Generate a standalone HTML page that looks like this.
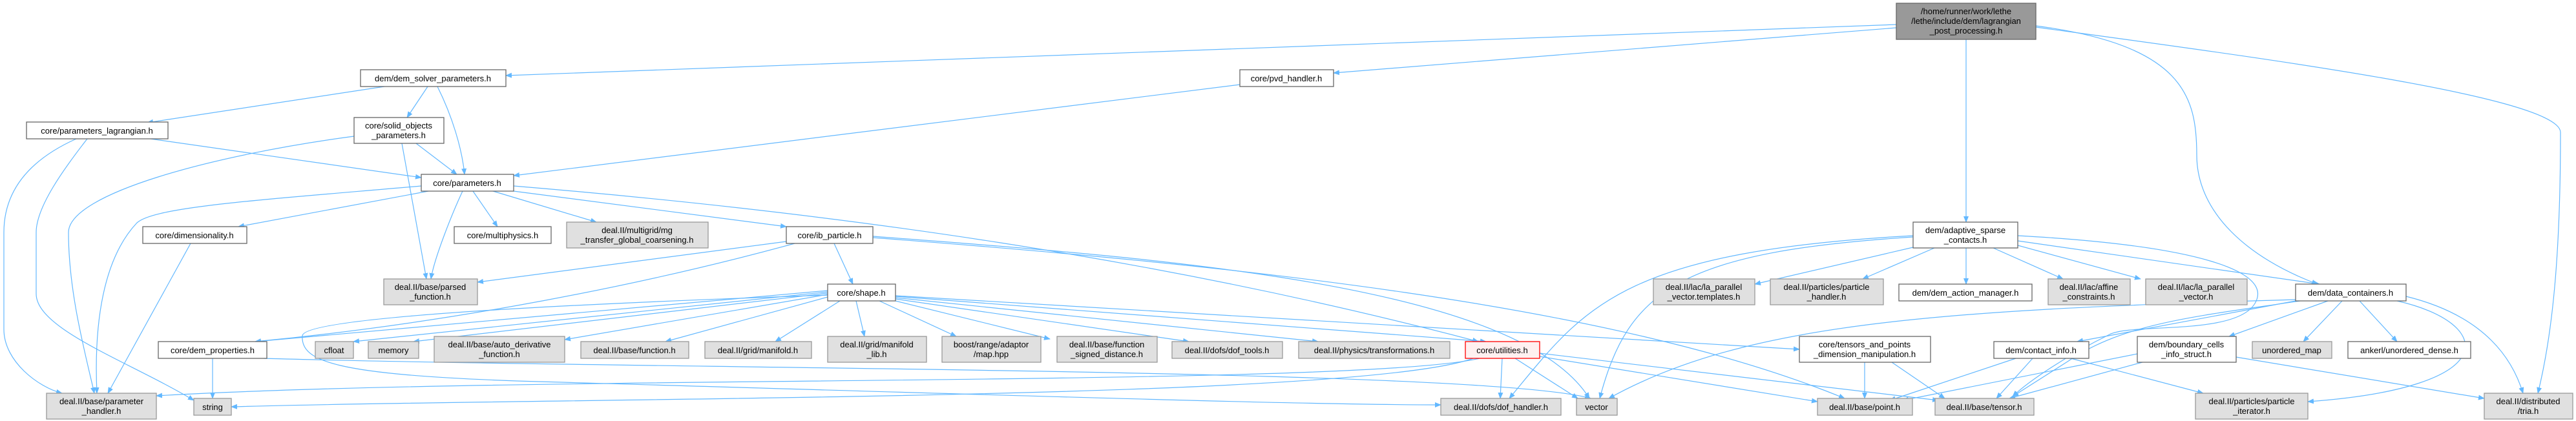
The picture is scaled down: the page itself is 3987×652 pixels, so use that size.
<!DOCTYPE html>
<html><head><meta charset="utf-8"><style>
html,body{margin:0;padding:0;background:#fff;width:3987px;height:652px;overflow:hidden}
svg text{font-family:"Liberation Sans",sans-serif;font-size:13px;fill:#000;text-anchor:middle}
.e{fill:none;stroke:#63b8ff;stroke-width:1.2}
.w{fill:#fff;stroke:#666;stroke-width:1.3}
.g{fill:#e0e0e0;stroke:#999;stroke-width:1.3}
.m{fill:#999;stroke:#666;stroke-width:1.3}
.r{fill:#fff0f0;stroke:#f00;stroke-width:1.3}
</style></head><body>
<svg width="3987" height="652" viewBox="0 0 3987 652" xmlns="http://www.w3.org/2000/svg">
<defs><marker id="a" markerWidth="10" markerHeight="8" refX="9" refY="4" orient="auto" markerUnits="userSpaceOnUse"><path d="M0,0 L10,4 L0,8 z" fill="#63b8ff"/></marker></defs>
<g class="e" marker-end="url(#a)">
<path d="M2935,38 L783,117"/>
<path d="M2935,43 L2064,113"/>
<path d="M3043,61 L3043,344"/>
<path d="M3151,40 C3380,70 3400,150 3400,240 C3400,330 3480,400 3587,440"/>
<path d="M3151,42 C3500,90 3963,150 3963,205 C3963,400 3950,520 3928,609"/>
<path d="M595,134 L228,190"/>
<path d="M662,134 L630,182"/>
<path d="M677,134 C700,180 715,230 719,270"/>
<path d="M233,215 L652,275"/>
<path d="M118,215 C40,250 6,300 6,360 L6,510 C6,560 60,600 96,609"/>
<path d="M135,215 C100,260 56,320 56,360 L56,455 C56,510 200,560 300,620"/>
<path d="M548,211 C330,240 106,300 106,360 C106,450 130,540 146,609"/>
<path d="M622,222 L660,432"/>
<path d="M644,222 L707,270"/>
<path d="M1919,131 L795,272"/>
<path d="M652,288 C400,310 240,320 212,345 C160,400 145,500 150,609"/>
<path d="M663,296 L369,351"/>
<path d="M716,296 C700,330 672,400 667,432"/>
<path d="M732,296 L770,351"/>
<path d="M763,296 L923,344"/>
<path d="M795,296 L1217,351"/>
<path d="M795,288 C1300,330 1800,400 2288,529"/>
<path d="M295,377 L167,609"/>
<path d="M1217,374 L739,437"/>
<path d="M1230,377 C1000,440 700,500 395,529"/>
<path d="M1291,377 L1320,440"/>
<path d="M1351,366 C1800,400 2350,440 2460,617"/>
<path d="M1351,368 C1900,410 2500,470 2855,617"/>
<path d="M1281,457 C900,470 470,490 468,520 C465,560 520,580 800,590 C1500,610 2000,627 2230,627"/>
<path d="M1281,450 L395,529"/>
<path d="M1281,452 L547,529"/>
<path d="M1281,454 L640,529"/>
<path d="M1281,456 L874,526"/>
<path d="M1281,460 L1030,529"/>
<path d="M1300,466 L1200,529"/>
<path d="M1325,466 L1338,521"/>
<path d="M1361,466 L1480,521"/>
<path d="M1386,466 L1625,525"/>
<path d="M1386,463 L1840,529"/>
<path d="M1386,461 L2040,529"/>
<path d="M1386,459 L2300,529"/>
<path d="M1386,458 L2785,541"/>
<path d="M408,555 C1000,572 2300,570 2462,617"/>
<path d="M329,555 L329,617"/>
<path d="M2290,555 C2100,600 800,580 242,613"/>
<path d="M2280,555 C2100,620 900,615 358,630"/>
<path d="M2325,555 L2322,617"/>
<path d="M2345,555 L2442,617"/>
<path d="M2383,552 L2813,622"/>
<path d="M2383,547 L3000,620"/>
<path d="M2886,561 L2886,617"/>
<path d="M2928,561 L3010,617"/>
<path d="M2961,367 C2600,390 2520,450 2476,617"/>
<path d="M2961,365 C2500,390 2450,480 2336,617"/>
<path d="M2961,383 L2716,440"/>
<path d="M2994,384 L2883,432"/>
<path d="M3043,384 L3043,440"/>
<path d="M3085,384 L3193,432"/>
<path d="M3123,380 L3313,432"/>
<path d="M3123,373 L3590,440"/>
<path d="M3123,365 C3400,380 3520,420 3490,470 C3460,520 3300,500 3265,518 C3200,550 3140,590 3115,614"/>
<path d="M3553,464 C3000,480 2700,500 2490,617"/>
<path d="M3553,466 L3215,529"/>
<path d="M3603,466 L3450,521"/>
<path d="M3625,466 L3565,529"/>
<path d="M3652,466 L3710,529"/>
<path d="M3724,459 C3850,490 3890,560 3905,609"/>
<path d="M3710,466 C3860,500 3880,600 3572,622"/>
<path d="M3560,466 C3400,490 3287,500 3200,560 L3115,614"/>
<path d="M3120,555 L2925,620"/>
<path d="M3146,555 L3090,617"/>
<path d="M3205,555 L3410,609"/>
<path d="M3308,548 L2945,620"/>
<path d="M3316,561 L3110,617"/>
<path d="M3461,553 L3845,617"/>
</g>
<g>
<rect class="m" x="2935" y="5" width="216" height="56"/><text x="3043" y="22">/home/runner/work/lethe</text><text x="3043" y="37">/lethe/include/dem/lagrangian</text><text x="3043" y="52">_post_processing.h</text>
<rect class="w" x="558" y="108" width="225" height="26"/><text x="670" y="126">dem/dem_solver_parameters.h</text>
<rect class="w" x="1919" y="108" width="145" height="26"/><text x="1991" y="126">core/pvd_handler.h</text>
<rect class="w" x="41" y="189" width="219" height="26"/><text x="150" y="207">core/parameters_lagrangian.h</text>
<rect class="w" x="548" y="182" width="139" height="40"/><text x="617" y="199">core/solid_objects</text><text x="617" y="214">_parameters.h</text>
<rect class="w" x="652" y="270" width="143" height="26"/><text x="723" y="288">core/parameters.h</text>
<rect class="w" x="221" y="351" width="161" height="26"/><text x="301" y="369">core/dimensionality.h</text>
<rect class="w" x="703" y="351" width="150" height="26"/><text x="778" y="369">core/multiphysics.h</text>
<rect class="g" x="877" y="344" width="219" height="40"/><text x="986" y="361">deal.II/multigrid/mg</text><text x="986" y="376">_transfer_global_coarsening.h</text>
<rect class="w" x="1217" y="351" width="134" height="26"/><text x="1284" y="369">core/ib_particle.h</text>
<rect class="w" x="2961" y="344" width="162" height="40"/><text x="3042" y="361">dem/adaptive_sparse</text><text x="3042" y="376">_contacts.h</text>
<rect class="g" x="594" y="432" width="145" height="40"/><text x="666" y="449">deal.II/base/parsed</text><text x="666" y="464">_function.h</text>
<rect class="w" x="1281" y="440" width="105" height="26"/><text x="1333" y="458">core/shape.h</text>
<rect class="g" x="2559" y="432" width="157" height="40"/><text x="2637" y="449">deal.II/lac/la_parallel</text><text x="2637" y="464">_vector.templates.h</text>
<rect class="g" x="2740" y="432" width="175" height="40"/><text x="2827" y="449">deal.II/particles/particle</text><text x="2827" y="464">_handler.h</text>
<rect class="w" x="2939" y="440" width="206" height="26"/><text x="3042" y="458">dem/dem_action_manager.h</text>
<rect class="g" x="3170" y="432" width="127" height="40"/><text x="3233" y="449">deal.II/lac/affine</text><text x="3233" y="464">_constraints.h</text>
<rect class="g" x="3321" y="432" width="157" height="40"/><text x="3399" y="449">deal.II/lac/la_parallel</text><text x="3399" y="464">_vector.h</text>
<rect class="w" x="3553" y="440" width="171" height="26"/><text x="3638" y="458">dem/data_containers.h</text>
<rect class="w" x="245" y="529" width="168" height="26"/><text x="329" y="547">core/dem_properties.h</text>
<rect class="g" x="488" y="529" width="59" height="26"/><text x="517" y="547">cfloat</text>
<rect class="g" x="570" y="529" width="78" height="26"/><text x="609" y="547">memory</text>
<rect class="g" x="672" y="521" width="202" height="40"/><text x="773" y="538">deal.II/base/auto_derivative</text><text x="773" y="553">_function.h</text>
<rect class="g" x="899" y="529" width="167" height="26"/><text x="982" y="547">deal.II/base/function.h</text>
<rect class="g" x="1091" y="529" width="165" height="26"/><text x="1173" y="547">deal.II/grid/manifold.h</text>
<rect class="g" x="1281" y="521" width="153" height="40"/><text x="1357" y="538">deal.II/grid/manifold</text><text x="1357" y="553">_lib.h</text>
<rect class="g" x="1458" y="521" width="153" height="40"/><text x="1534" y="538">boost/range/adaptor</text><text x="1534" y="553">/map.hpp</text>
<rect class="g" x="1636" y="521" width="155" height="40"/><text x="1713" y="538">deal.II/base/function</text><text x="1713" y="553">_signed_distance.h</text>
<rect class="g" x="1814" y="529" width="171" height="26"/><text x="1899" y="547">deal.II/dofs/dof_tools.h</text>
<rect class="g" x="2010" y="529" width="234" height="26"/><text x="2127" y="547">deal.II/physics/transformations.h</text>
<rect class="r" x="2268" y="529" width="115" height="26"/><text x="2325" y="547">core/utilities.h</text>
<rect class="w" x="2785" y="521" width="203" height="40"/><text x="2886" y="538">core/tensors_and_points</text><text x="2886" y="553">_dimension_manipulation.h</text>
<rect class="w" x="3086" y="529" width="147" height="26"/><text x="3159" y="547">dem/contact_info.h</text>
<rect class="w" x="3308" y="521" width="153" height="40"/><text x="3384" y="538">dem/boundary_cells</text><text x="3384" y="553">_info_struct.h</text>
<rect class="g" x="3486" y="529" width="123" height="26"/><text x="3547" y="547">unordered_map</text>
<rect class="w" x="3634" y="529" width="190" height="26"/><text x="3729" y="547">ankerl/unordered_dense.h</text>
<rect class="g" x="72" y="609" width="170" height="40"/><text x="157" y="626">deal.II/base/parameter</text><text x="157" y="641">_handler.h</text>
<rect class="g" x="300" y="617" width="58" height="26"/><text x="329" y="635">string</text>
<rect class="g" x="2230" y="617" width="186" height="26"/><text x="2323" y="635">deal.II/dofs/dof_handler.h</text>
<rect class="g" x="2440" y="617" width="63" height="26"/><text x="2471" y="635">vector</text>
<rect class="g" x="2813" y="617" width="147" height="26"/><text x="2886" y="635">deal.II/base/point.h</text>
<rect class="g" x="2995" y="617" width="153" height="26"/><text x="3071" y="635">deal.II/base/tensor.h</text>
<rect class="g" x="3398" y="609" width="174" height="40"/><text x="3485" y="626">deal.II/particles/particle</text><text x="3485" y="641">_iterator.h</text>
<rect class="g" x="3845" y="609" width="137" height="40"/><text x="3913" y="626">deal.II/distributed</text><text x="3913" y="641">/tria.h</text>
</g>
</svg>
</body></html>
